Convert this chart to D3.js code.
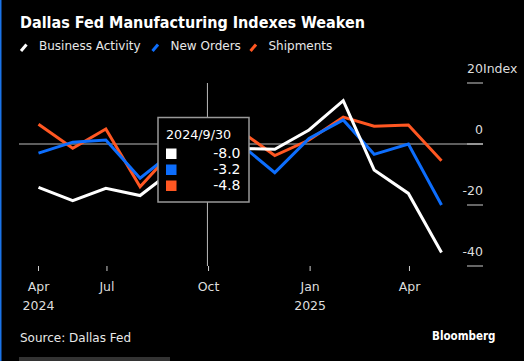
<!DOCTYPE html>
<html>
<head>
  <meta charset="utf-8">
  <title>Dallas Fed Manufacturing Indexes Weaken</title>
  <style>
    body { margin: 0; background: #000; }
    svg { display: block; }
    text { font-family: 'DejaVu Sans', sans-serif; }
  </style>
</head>
<body>
  <div id="chart"></div>
  <script src="https://cdn.jsdelivr.net/npm/d3@7"></script>
  <script>

    function translate(x, y) {
      return 'translate(' + x + ', ' + y + ')';
    }

    // monthly readings, end of month
    let dates = ['2024-04-30', '2024-05-31', '2024-06-30', '2024-07-31', '2024-08-31',
      '2024-09-30', '2024-10-31', '2024-11-30', '2024-12-31', '2025-01-31',
      '2025-02-28', '2025-03-31', '2025-04-30'];
    let businessActivity = [-14.2, -18.6, -14.5, -16.9, -8.3, -8.0, -1.5, -1.7, 4.6, 14.2, -8.5, -16.2, -35.6];
    let newOrders = [-3.0, 0.6, 1.3, -11.2, -2.3, -3.2, -0.4, -9.4, 1.8, 7.9, -3.4, 0.0, -20.0];
    let shipments = [6.5, -1.4, 4.9, -14.0, -1.8, -4.8, 4.0, -3.8, 1.3, 8.8, 5.8, 6.2, -5.5];

    let seriesNames = ['Business Activity', 'New Orders', 'Shipments'];
    let seriesColors = ['#ffffff', '#0d6efd', '#ff5722'];

    let yTicks = [20, 0, -20, -40];
    let xTicks = ['2024-04-30', '2024-07-01', '2024-10-01', '2025-01-01', '2025-04-01'];
    let xTickLabels = ['Apr', 'Jul', 'Oct', 'Jan', 'Apr'];
    let yearLabels = ['2024', '', '', '2025', ''];

    let hoverIndex = 5;
    let hoverLabel = '2024/9/30';

    let svgWidth = 524;
    let svgHeight = 361;
    let parse = d3.timeParse('%Y-%m-%d');

    let svg = d3.select('#chart')
      .append('svg')
        .attr('width', svgWidth)
        .attr('height', svgHeight)
        .style('background', '#000');

    let x = d3.scaleTime()
      .domain([parse(dates[0]), parse(dates[dates.length - 1])])
      .range([38.5, 441.5]);

    let y = d3.scaleLinear()
      .domain([-40, 20])
      .range([266, 83]);

    let series = [businessActivity, newOrders, shipments].map((vals, i) => ({
      name: seriesNames[i],
      color: seriesColors[i],
      values: vals.map((v, j) => ({date: parse(dates[j]), value: v}))
    }));

    // left accent and bottom bar
    svg.append('rect')
      .attr('x', 0).attr('y', 0)
      .attr('width', 1.5).attr('height', svgHeight)
      .style('fill', '#1a73e8');

    svg.append('rect')
      .attr('x', 19).attr('y', 357)
      .attr('width', 151).attr('height', 4)
      .style('fill', '#333');

    // title
    svg.append('text')
      .attr('x', 20)
      .attr('y', 27.5)
      .attr('textLength', 345)
      .attr('lengthAdjust', 'spacingAndGlyphs')
      .style('font-size', '16px')
      .style('font-weight', 'bold')
      .style('fill', '#fff')
      .text('Dallas Fed Manufacturing Indexes Weaken');

    // legend
    let legendX = [20.5, 152, 250];
    let legend = svg.selectAll('.legend')
      .data(series)
      .enter()
      .append('g')
        .attr('class', 'legend')
        .attr('transform', (d, i) => translate(legendX[i], 0));

    legend.append('line')
      .attr('x1', 0.5).attr('y1', 51)
      .attr('x2', 6).attr('y2', 44.5)
      .style('stroke', d => d.color)
      .style('stroke-width', 3);

    legend.append('text')
      .attr('x', 18.5)
      .attr('y', 50)
      .style('font-size', '12px')
      .style('fill', '#e8e8e8')
      .text(d => d.name);

    // y axis: ticks and labels on the right
    svg.append('line')
      .attr('x1', 19).attr('x2', 483)
      .attr('y1', y(0)).attr('y2', y(0))
      .style('stroke', '#bbb')
      .style('stroke-width', 1);

    let yAxis = svg.selectAll('.ytick')
      .data(yTicks)
      .enter()
      .append('g')
        .attr('class', 'ytick')
        .attr('transform', d => translate(0, y(d)));

    yAxis.append('line')
      .attr('x1', 467).attr('x2', 483)
      .style('stroke', '#ccc')
      .style('stroke-width', 1);

    yAxis.append('text')
      .attr('x', 483)
      .attr('y', -10)
      .style('text-anchor', 'end')
      .style('font-size', '12.5px')
      .style('fill', '#ddd')
      .text(d => d);

    // unit label hangs off the top tick
    svg.append('text')
      .attr('x', 483)
      .attr('y', y(yTicks[0]) - 10)
      .style('font-size', '12.5px')
      .style('fill', '#ddd')
      .text('Index');

    // x axis
    let xAxis = svg.selectAll('.xtick')
      .data(xTicks)
      .enter()
      .append('g')
        .attr('class', 'xtick')
        .attr('transform', d => translate(x(parse(d)), 0));

    xAxis.append('line')
      .attr('y1', 266).attr('y2', 271)
      .style('stroke', '#ccc')
      .style('stroke-width', 1);

    xAxis.append('text')
      .attr('y', 290.5)
      .style('text-anchor', 'middle')
      .style('font-size', '12.5px')
      .style('fill', '#ddd')
      .text((d, i) => xTickLabels[i]);

    xAxis.append('text')
      .attr('y', 309.5)
      .style('text-anchor', 'middle')
      .style('font-size', '12.5px')
      .style('fill', '#ddd')
      .text((d, i) => yearLabels[i]);

    // crosshair
    let hoverX = x(parse(dates[hoverIndex]));
    svg.append('line')
      .attr('x1', hoverX).attr('x2', hoverX)
      .attr('y1', 83).attr('y2', 266)
      .style('stroke', '#bbb')
      .style('stroke-width', 1);

    // lines
    let line = d3.line()
      .x(d => x(d.date))
      .y(d => y(d.value));

    svg.selectAll('.series')
      .data(series.slice().reverse())
      .enter()
      .append('path')
        .attr('class', 'series')
        .attr('d', d => line(d.values))
        .style('fill', 'none')
        .style('stroke', d => d.color)
        .style('stroke-width', 3)
        .style('stroke-linejoin', 'miter');

    // tooltip
    let tip = svg.append('g')
      .attr('transform', translate(158, 117.5));

    tip.append('rect')
      .attr('width', 91)
      .attr('height', 84.5)
      .style('fill', '#000')
      .style('stroke', '#999')
      .style('stroke-width', 1.5);

    tip.append('text')
      .attr('x', 8)
      .attr('y', 21.5)
      .style('font-size', '12.7px')
      .style('fill', '#fff')
      .text(hoverLabel);

    let rows = tip.selectAll('.row')
      .data(series)
      .enter()
      .append('g')
        .attr('class', 'row')
        .attr('transform', (d, i) => translate(0, 31 + i * 16));

    rows.append('rect')
      .attr('x', 8)
      .attr('width', 10.5)
      .attr('height', 10.5)
      .style('fill', d => d.color);

    rows.append('text')
      .attr('x', 82.5)
      .attr('y', 9.5)
      .style('text-anchor', 'end')
      .style('font-size', '14px')
      .style('fill', '#fff')
      .text(d => d3.format('.1f')(d.values[hoverIndex].value).replace('−', '-'));

    // footer
    svg.append('text')
      .attr('x', 20)
      .attr('y', 342)
      .style('font-size', '12px')
      .style('fill', '#e8e8e8')
      .text('Source: Dallas Fed');

    svg.append('text')
      .attr('x', 495.5)
      .attr('y', 340)
      .attr('textLength', 63.5)
      .attr('lengthAdjust', 'spacingAndGlyphs')
      .style('text-anchor', 'end')
      .style('font-size', '12px')
      .style('font-weight', 'bold')
      .style('fill', '#fff')
      .text('Bloomberg');

  </script>
</body>
</html>
